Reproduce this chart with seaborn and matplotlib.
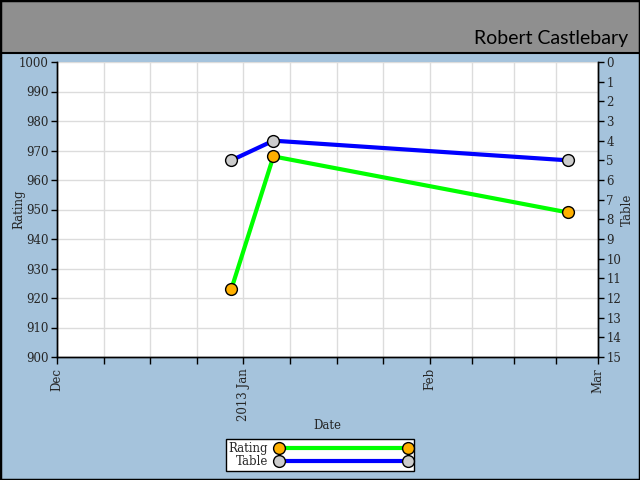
import matplotlib
matplotlib.use("Agg")
import matplotlib.pyplot as plt
import matplotlib.dates as mdates
from matplotlib.patches import Rectangle
from matplotlib.lines import Line2D
import seaborn as sns
import pandas as pd
import numpy as np

# data
dates = ["2012-12-30", "2013-01-06", "2013-02-24"]
rating = [923, 968, 949]
table_pos = [5, 4, 5]

month_starts = ["2012-12-01", "2013-01-01", "2013-02-01", "2013-03-01"]
month_labels = ["Dec", "2013 Jan", "Feb", "Mar"]

df = pd.DataFrame({"Date": pd.to_datetime(dates), "Rating": rating, "Table": table_pos})

sns.set_style("white")
plt.rcParams["font.family"] = ["DejaVu Serif"]

bg = "#a5c3dc"
fs = 8.5
fig = plt.figure(figsize=(6.4, 4.8), dpi=100, facecolor=bg)

# grey header band and outer frame
fig.patches.append(Rectangle((0, 1 - 53 / 480), 1, 53 / 480, transform=fig.transFigure,
                             facecolor="#8f8f8f", edgecolor="black", lw=1.5, zorder=0))
fig.patches.append(Rectangle((0, 0), 1, 1, transform=fig.transFigure,
                             facecolor="none", edgecolor="black", lw=2.5, zorder=5))
fig.text(628 / 640, 1 - 44 / 480, "Robert Castlebary", ha="right", va="baseline",
         fontsize=14, family=["Lato", "DejaVu Sans"], color="black")

ax = fig.add_axes([57 / 640, 1 - 357 / 480, (598 - 57) / 640, (357 - 62) / 480])
ax.set_facecolor("white")
ax2 = ax.twinx()

sns.lineplot(data=df, x="Date", y="Rating", ax=ax, color="#00ff00", lw=3, marker="o",
             markersize=8.5, markerfacecolor="#ffb000", markeredgecolor="black",
             markeredgewidth=1, zorder=3)
sns.lineplot(data=df, x="Date", y="Table", ax=ax2, color="#0000ff", lw=3, marker="o",
             markersize=8.5, markerfacecolor="#cccccc", markeredgecolor="black",
             markeredgewidth=1, zorder=3)

# x axis: month starts plus quarter-month minor ticks
ms = [mdates.date2num(pd.Timestamp(d)) for d in month_starts]
minor = []
for a, b in zip(ms[:-1], ms[1:]):
    minor += [a + k * (b - a) / 4 for k in range(1, 4)]
ax.set_xlim(ms[0], ms[-1])
ax.set_xticks(ms)
ax.set_xticklabels(month_labels, rotation=90, fontsize=fs)
ax.set_xticks(minor, minor=True)
ax.tick_params(axis="x", which="both", direction="out", length=5, width=1, color="black",
               bottom=True, pad=3)

ax.set_ylim(900, 1000)
ax.set_yticks(np.arange(900, 1001, 10))
ax.tick_params(axis="y", direction="out", length=4, width=1, color="black", left=True,
               labelsize=fs, pad=2)
ax2.set_ylim(15, 0)
ax2.set_yticks(np.arange(0, 16, 1))
ax2.tick_params(axis="y", direction="out", length=4, width=1, color="black", right=True,
                labelsize=fs, pad=2)

ax.grid(True, which="both", color="#dcdcdc", lw=1)
ax.set_axisbelow(True)

for a in (ax, ax2):
    for s in a.spines.values():
        s.set_color("black")
        s.set_linewidth(1)
    a.spines["top"].set_visible(False)

ax.set_xlabel("Date", fontsize=fs)
ax.xaxis.set_label_coords(0.5, -0.21)
ax.set_ylabel("Rating", fontsize=fs)
ax.yaxis.set_label_coords(-0.058, 0.5)
ax2.set_ylabel("Table", fontsize=fs)
ax2.yaxis.set_label_coords(1.042, 0.5)

handles = [
    Line2D([], [], color="#00ff00", lw=3, marker="o", ms=8.5, mfc="#ffb000", mec="black"),
    Line2D([], [], color="#0000ff", lw=3, marker="o", ms=8.5, mfc="#cccccc", mec="black"),
]
leg = fig.legend(handles, ["Rating", "Table"], loc="center",
                 bbox_to_anchor=(320 / 640, 1 - 455 / 480), markerfirst=False, numpoints=2,
                 handlelength=11.5, frameon=True, fancybox=False, edgecolor="black",
                 framealpha=1, fontsize=fs, borderpad=0.25, labelspacing=0.05,
                 handletextpad=0.6)
leg.get_frame().set_linewidth(1)

fig.savefig("out.png", dpi=100, facecolor=bg)
